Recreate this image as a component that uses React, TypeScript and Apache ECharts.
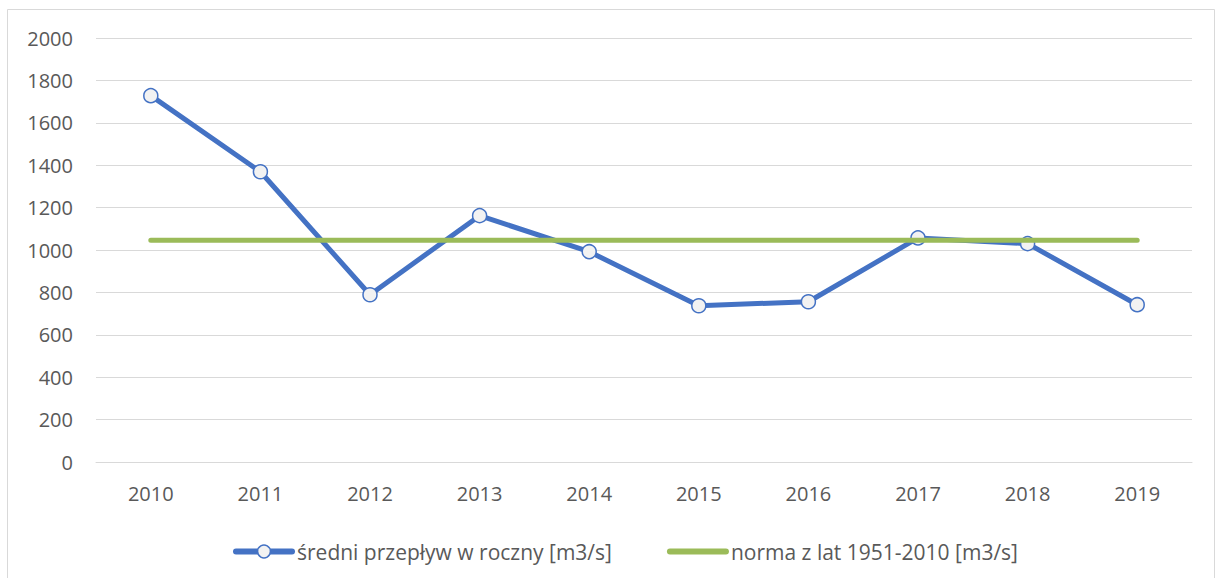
import React, { useEffect, useRef } from "react";
import * as echarts from "echarts";

const years = ["2010", "2011", "2012", "2013", "2014", "2015", "2016", "2017", "2018", "2019"];
const sredniPrzeplyw = [1728, 1369, 789, 1162, 992, 737, 756, 1057, 1030, 742];
const norma = [1046, 1046, 1046, 1046, 1046, 1046, 1046, 1046, 1046, 1046];
const seriesNames = ["średni przepływ w roczny [m3/s]", "norma z lat 1951-2010 [m3/s]"];

const FONT = "Open Sans";
const TEXT = "#595959";

export default function App() {
  const ref = useRef<HTMLDivElement>(null);
  useEffect(() => {
    if (!ref.current) return;
    const chart = echarts.init(ref.current, undefined, { renderer: "svg" });
    chart.setOption({
      animation: false,
      backgroundColor: "#ffffff",
      textStyle: { fontFamily: FONT },
      graphic: [
        {
          type: "rect",
          shape: { x: 7.5, y: 9.5, width: 1207, height: 575 },
          style: { fill: "none", stroke: "#d9d9d9", lineWidth: 1 },
          silent: true,
        },
      ],
      grid: { left: 96, right: 23, top: 38, bottom: 116, containLabel: false },
      legend: {
        top: 536,
        left: 228,
        itemWidth: 56,
        itemHeight: 16,
        itemGap: 55,
        lineStyle: { width: 6, cap: "round" },
        textStyle: { fontFamily: FONT, fontSize: 21, color: TEXT },
        data: [
          {
            name: seriesNames[0],
            itemStyle: { color: "#f2f2f2", borderColor: "#4472c4", borderWidth: 1.5 },
          },
          {
            name: seriesNames[1],
            itemStyle: { color: "transparent", borderColor: "transparent", borderWidth: 0, opacity: 0 },
          },
        ],
      },
      xAxis: {
        type: "category",
        data: years,
        boundaryGap: true,
        axisLine: { show: true, lineStyle: { color: "#d9d9d9", width: 1 } },
        axisTick: { show: false },
        axisLabel: { color: TEXT, fontSize: 20, fontFamily: FONT, margin: 21 },
      },
      yAxis: {
        type: "value",
        min: 0,
        max: 2000,
        interval: 200,
        axisLine: { show: false },
        axisTick: { show: false },
        splitLine: { lineStyle: { color: "#d9d9d9", width: 1 } },
        axisLabel: {
          color: TEXT,
          fontSize: 20,
          fontFamily: FONT,
          margin: 23,
          formatter: (v: number) => String(v),
        },
      },
      series: [
        {
          name: seriesNames[0],
          type: "line",
          data: sredniPrzeplyw,
          symbol: "circle",
          symbolSize: 14,
          showAllSymbol: true,
          z: 3,
          lineStyle: { color: "#4472c4", width: 5 },
          itemStyle: { color: "#f2f2f2", borderColor: "#4472c4", borderWidth: 1.5 },
        },
        {
          name: seriesNames[1],
          type: "line",
          data: norma,
          symbol: "none",
          z: 4,
          lineStyle: { color: "#9bbb59", width: 5, cap: "round" },
          itemStyle: { color: "#9bbb59" },
        },
      ],
    });
    return () => chart.dispose();
  }, []);
  return (
    <div
      ref={ref}
      style={{ position: "absolute", left: 0, top: 0, width: 1215, height: 578 }}
    />
  );
}
